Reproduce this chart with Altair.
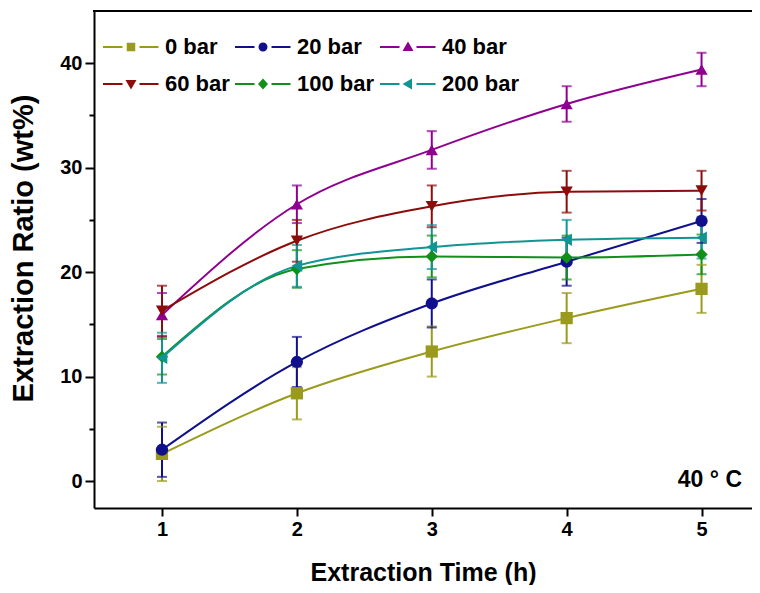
import altair as alt
import pandas as pd

FONT = "Liberation Sans, Arial, sans-serif"

# ---- data ----
times = [1, 2, 3, 4, 5]
series_names = ["0 bar", "20 bar", "40 bar", "60 bar", "100 bar", "200 bar"]

ratio_0 = [2.6, 8.4, 12.4, 15.6, 18.4]
err_0 = [2.6, 2.5, 2.4, 2.4, 2.3]
ratio_20 = [3.0, 11.4, 17.0, 21.0, 24.9]
err_20 = [2.6, 2.4, 2.3, 2.3, 2.1]
ratio_40 = [15.9, 26.5, 31.7, 36.1, 39.4]
err_40 = [2.1, 1.8, 1.8, 1.7, 1.6]
ratio_60 = [16.3, 23.0, 26.3, 27.7, 27.8]
err_60 = [2.4, 2.0, 2.0, 2.0, 1.9]
ratio_100 = [11.9, 20.3, 21.5, 21.4, 21.7]
err_100 = [1.7, 1.8, 2.0, 2.1, 1.9]
ratio_200 = [11.8, 20.6, 22.4, 23.1, 23.3]
err_200 = [2.4, 2.0, 2.1, 1.9, 2.0]

note_text = "40 ° C"
x_title = "Extraction Time (h)"
y_title = "Extraction Ratio (wt%)"
x_ticks = [1, 1.5, 2, 2.5, 3, 3.5, 4, 4.5, 5]
y_ticks = [0, 5, 10, 15, 20, 25, 30, 35, 40]

# ---- styles ----
colors = ["#9a9a1c", "#10108c", "#900090", "#8c0c0c", "#109018", "#109494"]
markers = ["square", "circle", "triangle-up", "triangle-down", "diamond", "triangle-left"]
seg = "M-5.6,-0.2H-1.7V0.2H-5.6Z M1.7,-0.2H5.5V0.2H1.7Z "
legend_paths = [
    seg + "M-0.85,-0.85H0.85V0.85H-0.85Z",
    seg + "M-0.9,0A0.9,0.9,0,1,1,0.9,0A0.9,0.9,0,1,1,-0.9,0Z",
    seg + "M0,-1.1L1.1,0.8H-1.1Z",
    seg + "M0,1.1L1.1,-0.8H-1.1Z",
    seg + "M0,-1.1L1.0,0L0,1.1L-1.0,0Z",
    seg + "M-1.1,0L0.8,-1.1V1.1Z",
]

all_ratios = [ratio_0, ratio_20, ratio_40, ratio_60, ratio_100, ratio_200]
all_errs = [err_0, err_20, err_40, err_60, err_100, err_200]

rows = []
for name, vals, errs in zip(series_names, all_ratios, all_errs):
    for t, v, e in zip(times, vals, errs):
        rows.append({"time": t, "series": name, "ratio": v, "lo": v - e, "hi": v + e})
df = pd.DataFrame(rows)

PLOT_W, PLOT_H = 658, 497
x_scale = alt.Scale(domain=[0.496, 5.374], nice=False, zero=False)
y_scale = alt.Scale(domain=[-2.58, 45.0], nice=False, zero=False)

x_axis = alt.Axis(
    values=x_ticks, format="d",
    labelExpr="datum.value % 1 === 0 ? datum.label : ''",
    tickSize={"condition": {"test": "datum.value % 1 === 0", "value": 8}, "value": 4},
    title=x_title, grid=False,
    domainColor="black", domainWidth=2, tickColor="black", tickWidth=2,
    labelFont=FONT, labelFontSize=20, labelFontWeight="bold", labelColor="black", labelPadding=3,
    titleFont=FONT, titleFontSize=25, titleFontWeight="bold", titleColor="black",
    titleBaseline="alphabetic", titleY=72,
)
y_axis = alt.Axis(
    values=y_ticks, format="d",
    labelExpr="datum.value % 10 === 0 ? datum.label : ''",
    tickSize={"condition": {"test": "datum.value % 10 === 0", "value": 9}, "value": 5},
    title=y_title, grid=False,
    domainColor="black", domainWidth=2, tickColor="black", tickWidth=2,
    labelFont=FONT, labelFontSize=20, labelFontWeight="bold", labelColor="black", labelPadding=3,
    titleFont=FONT, titleFontSize=29, titleFontWeight="bold", titleColor="black",
    titleX=-56, titleY=237,
)


def col(field="series:N"):
    return alt.Color(field, scale=alt.Scale(domain=series_names, range=colors), legend=None)


def xq():
    return alt.X("time:Q", scale=x_scale, axis=x_axis, title=x_title)


def yq(field):
    return alt.Y(field, scale=y_scale, axis=y_axis, title=y_title)


base = alt.Chart(df)

lines = base.mark_line(interpolate="monotone", strokeWidth=2).encode(
    x=xq(), y=yq("ratio:Q"), color=col(), detail="series:N",
)

bars = base.mark_rule(strokeWidth=2).encode(
    x=xq(), y=yq("lo:Q"), y2="hi:Q", color=col(),
)

caps_hi = base.mark_tick(orient="horizontal", size=10, thickness=2).encode(
    x=xq(), y=yq("hi:Q"), color=col(),
)
caps_lo = base.mark_tick(orient="horizontal", size=10, thickness=2).encode(
    x=xq(), y=yq("lo:Q"), color=col(),
)

points = base.mark_point(filled=True, opacity=1, size=150).encode(
    x=xq(), y=yq("ratio:Q"), color=col(),
    shape=alt.Shape("series:N", scale=alt.Scale(domain=series_names, range=markers), legend=None),
)

leg = dict(
    orient="none", legendX=26, legendY=25, columns=3, direction="horizontal", title=None,
    labelFont=FONT, labelFontSize=22, labelFontWeight="bold", labelColor="black",
    labelOffset=23, symbolSize=100, symbolStrokeWidth=0, symbolOpacity=1,
    columnPadding=5, rowPadding=15, labelLimit=200,
)
legend_layer = base.transform_filter("false").mark_point(filled=True, opacity=1).encode(
    color=alt.Color("series:N", scale=alt.Scale(domain=series_names, range=colors),
                    legend=alt.Legend(**leg)),
    shape=alt.Shape("series:N", scale=alt.Scale(domain=series_names, range=legend_paths),
                    legend=alt.Legend(**leg)),
)

# top frame line drawn as a thin filled band (the rule variant also drew a right edge)
frame_top = alt.Chart(alt.Data(values=[{"k": 1}])).mark_rect(
    color="black", strokeWidth=0
).encode(
    x=alt.value(-1), x2=alt.value(PLOT_W + 10), y=alt.value(-1), y2=alt.value(1)
)

note = alt.Chart(alt.Data(values=[{"label": note_text}])).mark_text(
    align="right", baseline="middle", font=FONT, fontSize=23, fontWeight="bold", color="black"
).encode(x=alt.value(648), y=alt.value(469), text="label:N")

chart = (
    alt.layer(lines, bars, caps_hi, caps_lo, points, legend_layer, frame_top, note)
    .resolve_scale(color="independent", shape="independent")
    .properties(
        width=PLOT_W, height=PLOT_H,
        autosize=alt.AutoSizeParams(type="none"),
        padding={"left": 86, "top": 3, "right": 0, "bottom": 77},
        background="white",
    )
    .configure_view(strokeWidth=0, strokeOpacity=0)
)

chart.save("out.html", embed_options={"renderer": "svg", "actions": False})
